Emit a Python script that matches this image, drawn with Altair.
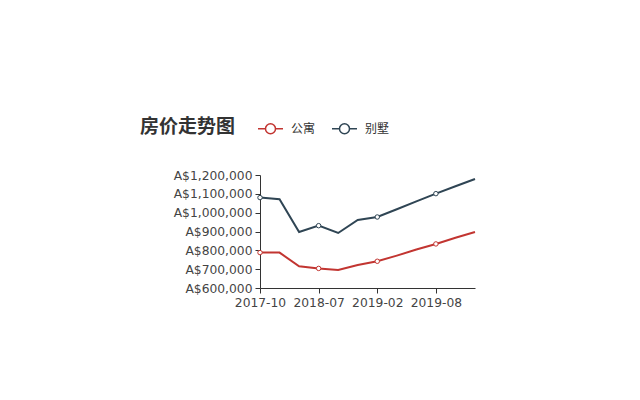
import altair as alt
import pandas as pd

months = ["2017-10", "2018-01", "2018-04", "2018-07", "2018-09", "2018-11",
          "2019-02", "2019-04", "2019-06", "2019-08", "2019-10", "2019-12"]
apartment = [788000, 788000, 715000, 704000, 696000, 722000,
             742000, 772000, 804000, 834000, 867000, 897000]
villa = [1080000, 1071000, 897000, 931000, 892000, 961000,
         977000, 1018000, 1060000, 1101000, 1140000, 1179000]
series_names = ["公寓", "别墅"]
colors = ["#c23531", "#2f4554"]
shown_ticks = ["2017-10", "2018-07", "2019-02", "2019-08"]
y_ticks = [600000, 700000, 800000, 900000, 1000000, 1100000, 1200000]

rows = []
for name, vals in zip(series_names, [apartment, villa]):
    for m, v in zip(months, vals):
        rows.append({"month": m, "price": v, "type": name})
df = pd.DataFrame(rows)

FONT = "DejaVu Sans"
icon = "M-1,0L-0.4,0M0.4,0L1,0M-0.4,0A0.4,0.4 0 1,1 0.4,0A0.4,0.4 0 1,1 -0.4,0Z"

x_enc = alt.X("month:O", sort=months,
              scale=alt.Scale(type="point", padding=0),
              axis=alt.Axis(values=shown_ticks, labelAngle=0, title=None,
                            tickSize=5, labelPadding=3, labelFontSize=12.3,
                            labelFont=FONT, labelColor="#444", labelOverlap=False,
                            domainColor="#333", tickColor="#333"))
y_enc = alt.Y("price:Q",
              scale=alt.Scale(domain=[600000, 1200000], nice=False, zero=False),
              axis=alt.Axis(values=y_ticks, tickCount=7,
                            labelExpr="'A$' + format(datum.value, ',')",
                            title=None, grid=False, tickSize=5, labelPadding=3,
                            labelFontSize=12.3, labelFont=FONT, labelColor="#444",
                            labelOverlap=False, labelBound=False, labelFlush=False,
                            domainColor="#333", tickColor="#333"))
color_enc = alt.Color("type:N", sort=series_names,
                      scale=alt.Scale(domain=series_names, range=colors),
                      legend=alt.Legend(title=None, orient="none", direction="horizontal",
                                        legendX=-3, legendY=-60,
                                        symbolType=icon, symbolSize=625,
                                        symbolStrokeWidth=1.5, symbolFillColor="white",
                                        labelFont="Noto Sans CJK SC", labelFontSize=12,
                                        labelColor="#333", labelOffset=7,
                                        columnPadding=13))

lines = alt.Chart(df).mark_line(strokeWidth=2).encode(x=x_enc, y=y_enc, color=color_enc)
points = alt.Chart(df).transform_filter(
    alt.FieldOneOfPredicate(field="month", oneOf=shown_ticks)
).mark_point(shape="circle", filled=True, fill="white", size=20,
             strokeWidth=1, opacity=1).encode(
    x=x_enc, y=y_enc,
    stroke=alt.Stroke("type:N", scale=alt.Scale(domain=series_names, range=colors), legend=None))

chart = alt.layer(lines, points).properties(
    width=215, height=113,
    autosize=alt.AutoSizeParams(type="none"),
    padding={"left": 252, "top": 167, "right": 100, "bottom": 80},
    title=alt.TitleParams("房价走势图", anchor="start", frame="group", dx=-120,
                          offset=35, dy=57, font="Noto Sans CJK SC", fontSize=19,
                          fontWeight="bold", color="#333"),
).configure_view(stroke=None)

chart.save("out.html", embed_options={"renderer": "svg", "actions": False})
